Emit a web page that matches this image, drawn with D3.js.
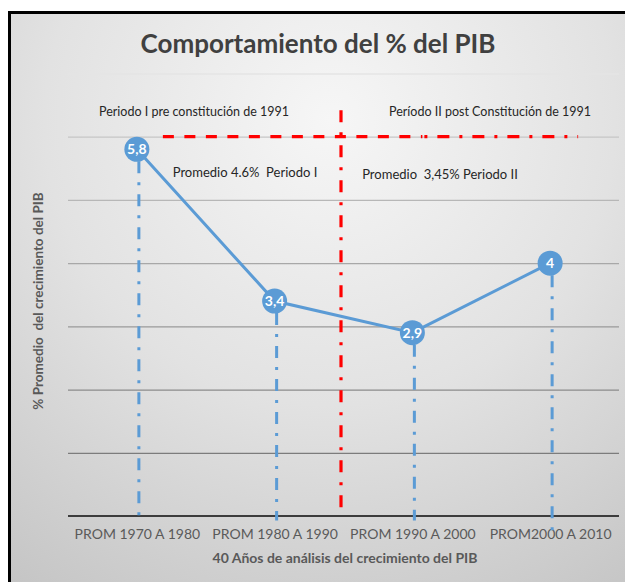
<!DOCTYPE html>
<html>
<head>
<meta charset="utf-8">
<script src="https://cdn.jsdelivr.net/npm/d3@7"></script>
<style>
  html, body { margin: 0; padding: 0; background: #ffffff; }
  svg { display: block; }
  text { font-family: Lato, "Open Sans", sans-serif; }
</style>
</head>
<body>
<svg id="chart" width="625" height="582"></svg>
<script>
// ---- data ----
const categories = ["PROM 1970 A 1980", "PROM 1980 A 1990", "PROM 1990 A 2000", "PROM2000 A 2010"];
const values = [5.8, 3.4, 2.9, 4];
const valueLabels = ["5,8", "3,4", "2,9", "4"];
const gridTicks = [0, 1, 2, 3, 4, 5, 6, 7];
const titleText = "Comportamiento del % del PIB";
const xTitle = "40 Años de análisis del crecimiento del PIB";
const yTitle = "% Promedio  del crecimiento del PIB";
const periodLabels = ["Periodo I pre constitución de 1991", "Período II post Constitución de 1991"];
const averageLabels = ["Promedio 4.6%  Periodo I", "Promedio  3,45% Periodo II"];
const periodBoundary = 6; // level of the red horizontal reference line

// ---- layout ----
const W = 625, H = 582;
const plot = { left: 68, right: 619, top: 73.5, bottom: 516 };
const svg = d3.select("#chart");
const defs = svg.append("defs");

const grad = defs.append("radialGradient")
  .attr("id", "bg").attr("gradientUnits", "userSpaceOnUse")
  .attr("cx", 330).attr("cy", 120).attr("r", 570);
grad.append("stop").attr("offset", 0).attr("stop-color", "#f6f6f6");
grad.append("stop").attr("offset", 0.5).attr("stop-color", "#e2e2e2");
grad.append("stop").attr("offset", 1).attr("stop-color", "#c4c4c4");

// background + frame (only top/left edges visible)
svg.append("rect").attr("x", 0).attr("y", 0).attr("width", W).attr("height", H).attr("fill", "#ffffff");
svg.append("rect").attr("x", 9.5).attr("y", 12.5).attr("width", W + 20).attr("height", H + 20)
  .attr("fill", "url(#bg)").attr("stroke", "#000").attr("stroke-width", 3);

// ---- scales ----
const x = d3.scalePoint().domain(categories).range([plot.left, plot.right]).padding(0.5);
const y = d3.scaleLinear().domain([0, 7]).range([plot.bottom, plot.top]);
const gridColor = d3.scaleLinear().domain([y(7), y(6), y(1)]).range(["#e4e4e4", "#c6c6c6", "#7c7c7c"]).clamp(true);

// gridlines
const grid = svg.append("g").attr("transform", `translate(${plot.left},0)`)
  .call(d3.axisLeft(y).tickValues(gridTicks.filter(t => t > 0)).tickSize(-(plot.right - plot.left)).tickFormat(""));
grid.select(".domain").remove();
grid.selectAll(".tick line")
  .attr("stroke", d => gridColor(y(d)))
  .attr("stroke-width", 1.3);

// x axis (baseline + labels)
const xAxis = svg.append("g").attr("transform", `translate(0,${y(0)})`)
  .call(d3.axisBottom(x).tickSize(0).tickPadding(13));
xAxis.select(".domain").attr("stroke", "#3c3c3c").attr("stroke-width", 2)
  .attr("d", `M${plot.left},0H${plot.right}`);
xAxis.selectAll(".tick text")
  .attr("font-family", "Lato, 'Open Sans', sans-serif")
  .attr("font-size", 14).attr("fill", "#5a5a5a");

// blue drop lines
svg.append("g").selectAll("line").data(values).join("line")
  .attr("x1", (d, i) => x(categories[i]) + 2)
  .attr("x2", (d, i) => x(categories[i]) + 2)
  .attr("y1", d => y(d) + 12)
  .attr("y2", (d, i) => i === values.length - 1 ? y(-0.27) : y(-0.07))
  .attr("stroke", "#5b9bd5").attr("stroke-width", 3)
  .attr("stroke-dasharray", "12,9,3,9");

// red vertical period divider
const divX = (x(categories[1]) + x(categories[2])) / 2 - 2.5;
svg.append("line")
  .attr("x1", divX).attr("x2", divX)
  .attr("y1", y(6.42)).attr("y2", y(0.13))
  .attr("stroke", "#ff0000").attr("stroke-width", 3.2)
  .attr("stroke-dasharray", "12,10,3,10");

// red horizontal reference line: dashed then dash-dot
const hStart = x(categories[0]) + 26;
const hMid = x(categories[2]) + 10;
const hEnd = x(categories[3]) + 28;
svg.append("line")
  .attr("x1", hStart).attr("x2", hMid)
  .attr("y1", y(periodBoundary)).attr("y2", y(periodBoundary))
  .attr("stroke", "#ff0000").attr("stroke-width", 3.2)
  .attr("stroke-dasharray", "11,10.5");
svg.append("line")
  .attr("x1", hMid + 2).attr("x2", hEnd)
  .attr("y1", y(periodBoundary)).attr("y2", y(periodBoundary))
  .attr("stroke", "#ff0000").attr("stroke-width", 3.2)
  .attr("stroke-dasharray", "3,10,12,10");

// series line
svg.append("path")
  .datum(values)
  .attr("fill", "none").attr("stroke", "#5b9bd5").attr("stroke-width", 3)
  .attr("d", d3.line().x((d, i) => x(categories[i])).y(d => y(d)));

// markers + labels
const mk = svg.append("g").selectAll("g").data(values).join("g")
  .attr("transform", (d, i) => `translate(${x(categories[i])},${y(d)})`);
mk.append("circle").attr("r", 12.5).attr("fill", "#5b9bd5");
mk.append("text").text((d, i) => valueLabels[i])
  .attr("text-anchor", "middle").attr("dy", "0.36em")
  .attr("font-size", 14).attr("font-weight", "bold").attr("fill", "#ffffff");

// title
svg.append("text").text(titleText)
  .attr("x", 318).attr("y", 53).attr("text-anchor", "middle")
  .attr("font-size", 26).attr("font-weight", "bold").attr("fill", "#404040");

// period labels
svg.append("text").text(periodLabels[0])
  .attr("x", 194).attr("y", 116).attr("text-anchor", "middle")
  .attr("font-size", 12.5).attr("fill", "#262626");
svg.append("text").text(periodLabels[1])
  .attr("x", 490).attr("y", 116).attr("text-anchor", "middle")
  .attr("font-size", 12.5).attr("fill", "#262626");

// averages
svg.append("text").text(averageLabels[0])
  .attr("x", 245).attr("y", 177).attr("text-anchor", "middle")
  .attr("font-size", 13).attr("fill", "#262626").style("white-space", "pre");
svg.append("text").text(averageLabels[1])
  .attr("x", 440).attr("y", 179).attr("text-anchor", "middle")
  .attr("font-size", 13).attr("fill", "#262626").style("white-space", "pre");

// axis titles
svg.append("text").text(xTitle)
  .attr("x", 345).attr("y", 563).attr("text-anchor", "middle")
  .attr("font-size", 14).attr("font-weight", "bold").attr("fill", "#595959");
svg.append("text").text(yTitle)
  .attr("transform", "translate(43,301) rotate(-90)")
  .attr("text-anchor", "middle")
  .attr("font-size", 13.5).attr("font-weight", "bold").attr("fill", "#595959")
  .style("white-space", "pre");
</script>
</body>
</html>
